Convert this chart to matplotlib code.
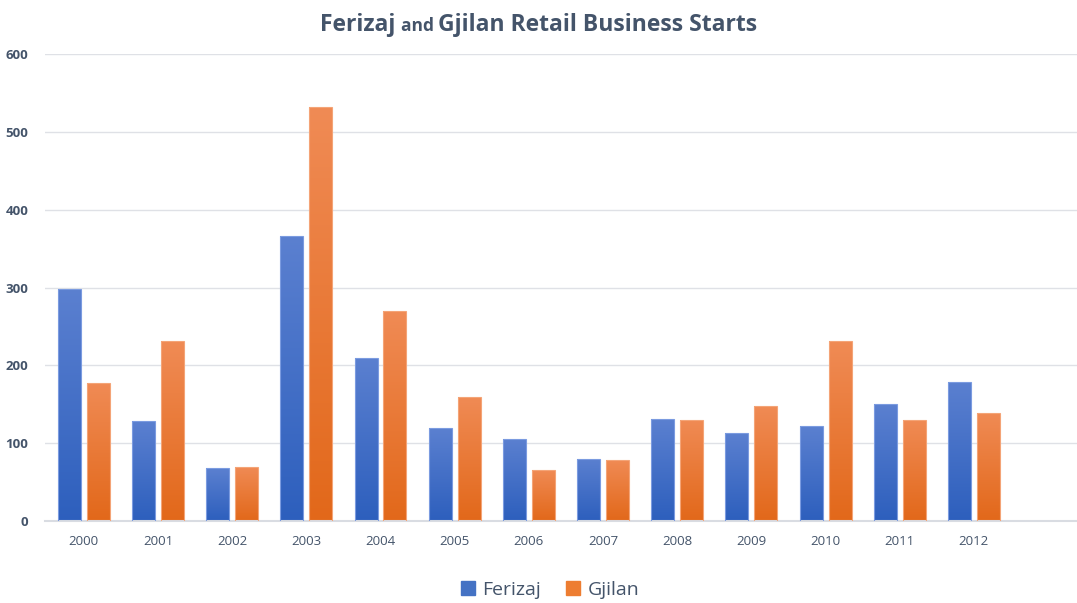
import matplotlib
matplotlib.use("Agg")
import matplotlib.pyplot as plt
import numpy as np
from matplotlib.colors import LinearSegmentedColormap
from matplotlib.patches import Rectangle

# Donnees
annees = ["2000", "2001", "2002", "2003", "2004", "2005", "2006",
          "2007", "2008", "2009", "2010", "2011", "2012"]
ferizaj = [298, 128, 68, 366, 210, 119, 106, 80, 131, 113, 122, 150, 179]
gjilan = [178, 231, 70, 532, 270, 160, 66, 79, 130, 148, 231, 130, 139]

plt.rcParams['font.family'] = ['Open Sans', 'DejaVu Sans']

fig = plt.figure(figsize=(10.77, 6.03), dpi=100)
ax = fig.add_axes([0.042, 0.136, 0.958, 0.774])

x = np.arange(len(annees))
w = 0.31
off = 0.195

grad_bleu = LinearSegmentedColormap.from_list("b", ["#2d5fbd", "#5b80d0"])
grad_orange = LinearSegmentedColormap.from_list("o", ["#e2681a", "#f08b55"])
grad = np.linspace(0, 1, 256).reshape(-1, 1)

def barres(pos, vals, cmap, edge):
    bars = ax.bar(pos, vals, width=w, color="none", edgecolor=edge, linewidth=0.8, zorder=3)
    for b in bars:
        x0, y0 = b.get_x(), b.get_y()
        h = b.get_height()
        im = ax.imshow(grad, cmap=cmap, origin="lower", aspect="auto",
                       extent=[x0, x0 + w, y0, y0 + h], zorder=2)
        clip = Rectangle((x0, y0), w, h, transform=ax.transData)
        im.set_clip_path(clip)
    return bars

b1 = barres(x - off, ferizaj, grad_bleu, "#7b9be0")
b2 = barres(x + off, gjilan, grad_orange, "#f4a477")

ax.set_xlim(-0.52, 13.39)
ax.set_ylim(0, 600)
ax.set_yticks(np.arange(0, 601, 100))
ax.set_xticks(x)
ax.set_xticklabels(annees, fontsize=9.5, color="#44546a")
for t in ax.get_yticklabels():
    t.set_fontweight("bold")
    t.set_fontsize(9.5)
    t.set_color("#44546a")
ax.tick_params(axis="both", length=0)
ax.tick_params(axis="y", pad=12)
ax.tick_params(axis="x", pad=10)
ax.grid(axis="y", color="#dfe1e6", linewidth=1, zorder=0)
ax.set_axisbelow(True)
for s in ["top", "right", "left"]:
    ax.spines[s].set_visible(False)
ax.spines["bottom"].set_color("#d9dce2")
ax.spines["bottom"].set_linewidth(1.5)

# Legende
h1 = Rectangle((0, 0), 1, 1, color="#4472c4")
h2 = Rectangle((0, 0), 1, 1, color="#ed7d31")
fig.legend([h1, h2], ["Ferizaj", "Gjilan"], loc="center", bbox_to_anchor=(0.511, 0.022),
           ncol=2, frameon=False, fontsize=14, handlelength=0.7, handleheight=0.7,
           handletextpad=0.4, columnspacing=1.3, labelcolor="#44546a")

# Titre en morceaux
morceaux = [("Ferizaj ", 16.5), ("and ", 12.5), ("Gjilan Retail Business Starts", 16.5)]
r = fig.canvas.get_renderer()
textes = []
for s, taille in morceaux:
    t = fig.text(0, 0.948, s, fontsize=taille, fontweight="bold", color="#44546a",
                 va="baseline", ha="left")
    textes.append(t)
larg = [t.get_window_extent(r).width for t in textes]
total = sum(larg)
xpix = (fig.bbox.width - total) / 2 + 0
for t, l in zip(textes, larg):
    t.set_x(xpix / fig.bbox.width)
    xpix += l

fig.savefig("out.png", dpi=100)
